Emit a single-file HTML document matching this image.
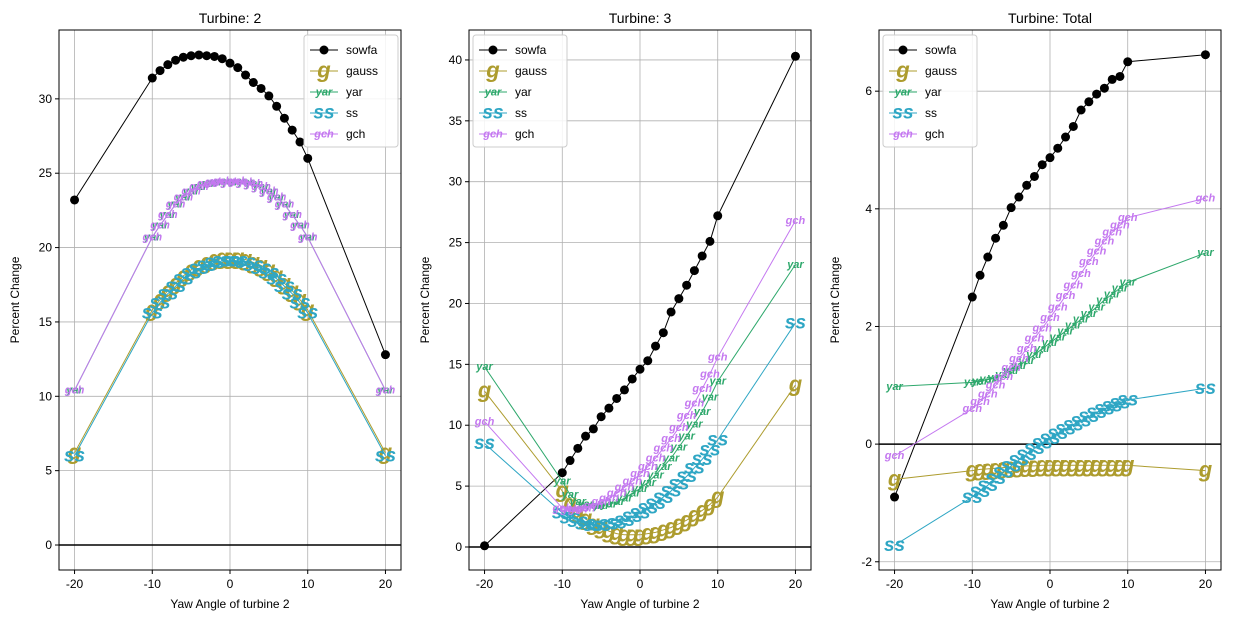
<!DOCTYPE html>
<html><head><meta charset="utf-8"><style>
body{margin:0;background:#fff;font-family:"Liberation Sans","DejaVu Sans",sans-serif}
svg text{font-family:"Liberation Sans","DejaVu Sans",sans-serif}
</style></head><body>
<svg id="chart" width="1234" height="623" xmlns="http://www.w3.org/2000/svg"></svg>
<script>
const xs=[-20,-10,-9,-8,-7,-6,-5,-4,-3,-2,-1,0,1,2,3,4,5,6,7,8,9,10,20];
const p1Sowfa=[23.2,31.4,31.9,32.3,32.6,32.8,32.9,32.95,32.9,32.85,32.7,32.4,32.1,31.6,31.1,30.7,30.2,29.5,28.7,27.9,27.1,26.0,12.8];
const p1Gauss=[6.2,15.8,16.5,17.1,17.6,18.1,18.5,18.8,19.0,19.2,19.3,19.3,19.3,19.2,19.0,18.8,18.5,18.1,17.6,17.1,16.5,15.8,6.2];
const p1Yar=[10.4,20.7,21.5,22.2,22.9,23.4,23.8,24.1,24.3,24.4,24.45,24.4,24.45,24.4,24.3,24.1,23.8,23.4,22.9,22.2,21.5,20.7,10.4];
const p1Ss=[6.0,15.6,16.3,16.9,17.4,17.9,18.3,18.6,18.8,19.0,19.1,19.1,19.1,19.0,18.8,18.6,18.3,17.9,17.4,16.9,16.3,15.6,6.0];
const p1Gch=[10.4,20.7,21.5,22.2,22.9,23.4,23.8,24.1,24.3,24.4,24.45,24.4,24.45,24.4,24.3,24.1,23.8,23.4,22.9,22.2,21.5,20.7,10.4];
const p2Sowfa=[0.1,6.1,7.1,8.1,9.1,9.7,10.7,11.4,12.2,12.9,13.8,14.6,15.3,16.5,17.6,19.3,20.4,21.5,22.7,23.9,25.1,27.2,40.3];
const p2Gauss=[12.8,4.6,3.6,2.9,2.3,1.9,1.6,1.3,1.1,1.0,1.0,1.0,1.1,1.2,1.4,1.6,1.9,2.2,2.6,3.0,3.5,4.1,13.3];
const p2Yar=[14.8,5.4,4.3,3.7,3.5,3.4,3.4,3.5,3.7,4.0,4.4,4.8,5.3,5.9,6.6,7.3,8.2,9.1,10.1,11.1,12.3,13.6,23.2];
const p2Ss=[8.5,2.8,2.4,2.1,1.9,1.8,1.8,1.9,2.0,2.2,2.5,2.8,3.2,3.6,4.1,4.6,5.2,5.8,6.5,7.2,8.0,8.8,18.4];
const p2Gch=[10.3,3.2,3.1,3.1,3.2,3.4,3.7,4.0,4.4,4.9,5.4,6.0,6.6,7.3,8.1,8.9,9.8,10.8,11.8,13.0,14.2,15.6,26.8];
const p3Sowfa=[-0.9,2.5,2.87,3.18,3.5,3.72,4.02,4.2,4.4,4.55,4.75,4.87,5.03,5.22,5.4,5.68,5.82,5.95,6.05,6.2,6.25,6.5,6.62];
const p3Gauss=[-0.6,-0.45,-0.43,-0.42,-0.41,-0.4,-0.39,-0.38,-0.37,-0.37,-0.36,-0.36,-0.36,-0.36,-0.36,-0.36,-0.36,-0.36,-0.36,-0.36,-0.36,-0.36,-0.45];
const p3Yar=[0.98,1.05,1.07,1.1,1.13,1.18,1.25,1.33,1.42,1.52,1.62,1.72,1.82,1.92,2.02,2.12,2.22,2.33,2.45,2.55,2.65,2.75,3.25];
const p3Ss=[-1.72,-0.9,-0.8,-0.7,-0.58,-0.47,-0.37,-0.27,-0.17,-0.07,0.02,0.1,0.18,0.26,0.33,0.4,0.47,0.54,0.6,0.65,0.7,0.75,0.95];
const p3Gch=[-0.2,0.6,0.72,0.85,1.0,1.15,1.3,1.45,1.62,1.8,1.97,2.15,2.33,2.52,2.7,2.9,3.1,3.28,3.45,3.6,3.72,3.85,4.18];
const xTicks=[-20,-10,0,10,20];
const p1YTicks=[0,5,10,15,20,25,30];
const p2YTicks=[0,5,10,15,20,25,30,35,40];
const p3YTicks=[-2,0,2,4,6];
const titles=["Turbine: 2","Turbine: 3","Turbine: Total"];

const C={sowfa:"#000",gauss:"#ad9c2e",yar:"#2ea86c",ss:"#2ea6c4",gch:"#c478f0"};
const M={gauss:["g",22],yar:["yar",11],ss:["ss",19],gch:["gch",11]};
const svg=document.getElementById('chart');
const NS="http://www.w3.org/2000/svg";
function el(t,a,p){const e=document.createElementNS(NS,t);for(const k in a)e.setAttribute(k,a[k]);(p||svg).appendChild(e);return e;}

const panels=[
 {x0:59,yMin:-1.68,yMax:34.63,ticks:p1YTicks,legend:"right",series:{sowfa:p1Sowfa,gauss:p1Gauss,yar:p1Yar,ss:p1Ss,gch:p1Gch}},
 {x0:469,yMin:-1.89,yMax:42.46,ticks:p2YTicks,legend:"left",series:{sowfa:p2Sowfa,gauss:p2Gauss,yar:p2Yar,ss:p2Ss,gch:p2Gch}},
 {x0:879,yMin:-2.14,yMax:7.04,ticks:p3YTicks,legend:"left",series:{sowfa:p3Sowfa,gauss:p3Gauss,yar:p3Yar,ss:p3Ss,gch:p3Gch}}
];
const W=342,T=30,B=570;
panels.forEach((p,i)=>{
 const g=el('g',{});
 
 
 const sx=v=>p.x0+(v+22)/44*W;
 const sy=v=>B-(v-p.yMin)/(p.yMax-p.yMin)*(B-T);
 xTicks.forEach(t=>{
  el('line',{x1:sx(t),x2:sx(t),y1:T,y2:B,stroke:"#b0b0b0","stroke-width":0.8},g);
  el('line',{x1:sx(t),x2:sx(t),y1:B,y2:B+4,stroke:"#000"},g);
  const tx=el('text',{x:sx(t),y:B+18,"text-anchor":"middle","font-size":12},g);tx.textContent=t;
  
  
 });
 p.ticks.forEach(t=>{
  el('line',{x1:p.x0,x2:p.x0+W,y1:sy(t),y2:sy(t),stroke:"#b0b0b0","stroke-width":0.8},g);
  el('line',{x1:p.x0-4,x2:p.x0,y1:sy(t),y2:sy(t),stroke:"#000"},g);
  const tx=el('text',{x:p.x0-7,y:sy(t)+4,"text-anchor":"end","font-size":12},g);tx.textContent=t;
  
  
 });
 el('line',{x1:p.x0,x2:p.x0+W,y1:sy(0),y2:sy(0),stroke:"#000","stroke-width":1.5},g);
 ["sowfa","gauss","yar","ss","gch"].forEach(k=>{
  const vals=p.series[k];
  const sg=el('g',{},g);
  
  
  el('polyline',{points:xs.map((x,j)=>sx(x)+","+sy(vals[j])).join(" "),fill:"none",stroke:C[k],"stroke-width":1},sg);
  xs.forEach((x,j)=>{
   if(k==="sowfa"){const c=el('circle',{cx:sx(x),cy:sy(vals[j]),r:4.5,fill:"#000"},sg);
    }
   else{const t=el('text',{x:sx(x),y:sy(vals[j])+M[k][1]*0.3,"text-anchor":"middle","font-size":M[k][1],"font-style":"italic","font-weight":"bold",fill:C[k],"font-family":"DejaVu Sans"},sg);
    t.textContent=M[k][0];}
  });
 });
 el('rect',{x:p.x0,y:T,width:W,height:B-T,fill:"none",stroke:"#000","stroke-width":1},g);
 const tt=el('text',{x:p.x0+W/2,y:T-7,"text-anchor":"middle","font-size":14},g);tt.textContent=titles[i];
 
 const xl=el('text',{x:p.x0+W/2,y:608,"text-anchor":"middle","font-size":12},g);xl.textContent="Yaw Angle of turbine 2";
 
 const yx=p.x0-40,yy=(T+B)/2;
 const yl=el('text',{x:yx,y:yy,"text-anchor":"middle","font-size":12,transform:`rotate(-90 ${yx} ${yy})`},g);yl.textContent="Percent Change";
 
 // legend
 const lx=p.legend==="right"?p.x0+W-97:p.x0+4, ly=T+5;
 const lg=el('g',{},g);
 
 el('rect',{x:lx,y:ly,width:94,height:112,fill:"#fff","fill-opacity":0.85,stroke:"#ccc",rx:3},lg);
 ["sowfa","gauss","yar","ss","gch"].forEach((k,j)=>{
  const cy=ly+15+j*21;
  const e=el('g',{},lg);
  
  el('line',{x1:lx+6,x2:lx+34,y1:cy,y2:cy,stroke:C[k],"stroke-width":1},e);
  if(k==="sowfa")el('circle',{cx:lx+20,cy:cy,r:4.5,fill:"#000"},e);
  else{const t=el('text',{x:lx+20,y:cy+M[k][1]*0.3,"text-anchor":"middle","font-size":M[k][1],"font-style":"italic","font-weight":"bold",fill:C[k],"font-family":"DejaVu Sans"},e);t.textContent=M[k][0];}
  const lt=el('text',{x:lx+42,y:cy+4,"font-size":12},e);lt.textContent=k;
 });
});
</script>
</body></html>
